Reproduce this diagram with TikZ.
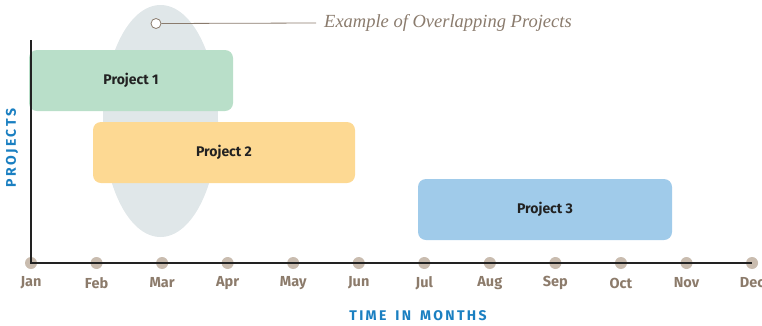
\documentclass[tikz,border=0pt]{standalone}
\usepackage{fontspec}
\setmainfont{Liberation Serif}
\setsansfont{Fira Sans}
\usetikzlibrary{shapes.geometric}
\definecolor{tan}{HTML}{C9BCAF}
\definecolor{monthtxt}{HTML}{8C7B6B}
\definecolor{axisblue}{HTML}{1A7FC1}
\definecolor{ellgray}{HTML}{E0E7E9}
\definecolor{pgreen}{HTML}{B9DFC9}
\definecolor{pyellow}{HTML}{FDD993}
\definecolor{pblue}{HTML}{A0CBEA}
\definecolor{titlebrown}{HTML}{8A7B6D}
\definecolor{axisline}{HTML}{222222}
\tikzset{
  projbox/.style={rectangle, rounded corners=8pt, inner sep=0pt, minimum height=61pt,
    font=\sffamily\bfseries\fontsize{14}{16}\selectfont, text=axisline},
  monthdot/.style={circle, fill=tan, inner sep=0pt, minimum size=12pt},
  monthlbl/.style={font=\sffamily\bfseries\fontsize{14.5}{16}\selectfont, text=monthtxt},
  axistitle/.style={font=\sffamily\bfseries\fontsize{14}{16}\selectfont, text=axisblue},
}
\begin{document}
\begin{tikzpicture}[x=1pt,y=-1pt]
\useasboundingbox (0,0) rectangle (762,325);
% highlight ellipse
\node[ellipse, fill=ellgray, minimum width=115pt, minimum height=232pt, inner sep=0pt] (ell) at (160.5,121) {};
% projects
\node[projbox, fill=pgreen, minimum width=204pt] (p1) at (131,80.5) {Project 1};
\node[projbox, fill=pyellow, minimum width=262pt] (p2) at (224,152.5) {Project 2};
\node[projbox, fill=pblue, minimum width=254pt] (p3) at (545,209.5) {Project 3};
% callout
\node[circle, draw=titlebrown, fill=white, line width=0.8pt, inner sep=0pt, minimum size=10pt] (mark) at (156,23.5) {};
\node[anchor=west, font=\itshape\fontsize{18.5}{22}\selectfont, text=titlebrown, inner sep=0pt] (title) at (324,23) {Example of Overlapping Projects};
\draw[titlebrown, line width=0.8pt] (mark.east) -- ([xshift=-8pt]title.west);
% month dots and labels
\foreach \m [count=\i from 0] in {Jan,Feb,Mar,Apr,May,Jun,Jul,Aug,Sep,Oct,Nov,Dec}{
  \node[monthdot] (d\i) at (31+65.55*\i,263) {};
  \node[monthlbl] (l\i) at (31+65.55*\i,283) {\m};
}
% axes
\coordinate (top) at (31,40);
\draw[axisline, line width=1.6pt] (top) -- (d0.center) -- (d11.center);
% axis titles
\node[axistitle] (xt) at (418,316) {T\,I\,M\,E\, \ I\,N\, \ M\,O\,N\,T\,H\,S};
\node[axistitle, rotate=90] (yt) at (12,148) {P\,R\,O\,J\,E\,C\,T\,S};
\end{tikzpicture}
\end{document}
